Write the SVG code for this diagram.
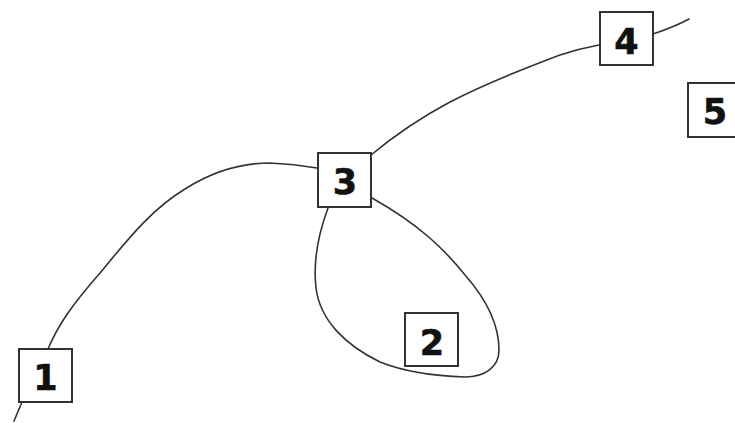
<svg xmlns="http://www.w3.org/2000/svg" width="735" height="423" viewBox="0 0 735 423">
<style>
.box{fill:#fff;stroke:#333;stroke-width:2}
.lbl{font-family:"DejaVu Sans",Verdana,sans-serif;font-weight:bold;font-size:35px;fill:#111;stroke:#111;stroke-width:0.6;text-anchor:middle}
.edge{fill:none;stroke:#333;stroke-width:1.6;stroke-linecap:round;stroke-linejoin:round}
</style>
<rect width="735" height="423" fill="#fff"/>
<g id="connectors">
<path class="edge" d="M14,421 L22,402"/>
<path class="edge" d="M48,349 C58,325 72,305 100,273 C125,243 150,210 185,189 C215,170 245,163 270,163 C290,164 305,166 317,168"/>
<path class="edge" d="M371,155 C395,135 420,118 450,102 C485,84 520,70 560,55 C575,50 588,47 599,45"/>
<path class="edge" d="M653,34 C665,30 678,25 689,19"/>
<path class="edge" d="M328,208 C318,235 313,262 316,288 C320,320 345,345 380,362 C405,372 435,376 465,377 C485,377 499,367 499,350 C499,325 487,300 465,275 C445,250 420,225 372,198"/>
</g>
<g id="node1"><rect class="box" x="19" y="349" width="53" height="53"/><text class="lbl" x="45.5" y="390">1</text></g>
<g id="node2"><rect class="box" x="405" y="313" width="53" height="53"/><text class="lbl" x="432" y="355">2</text></g>
<g id="node3"><rect class="box" x="318" y="153" width="53" height="54"/><text class="lbl" x="345" y="194">3</text></g>
<g id="node4"><rect class="box" x="600" y="12" width="53" height="53"/><text class="lbl" x="626.5" y="54">4</text></g>
<g id="node5"><rect class="box" x="688" y="83" width="53" height="54"/><text class="lbl" x="715" y="124">5</text></g>
</svg>
